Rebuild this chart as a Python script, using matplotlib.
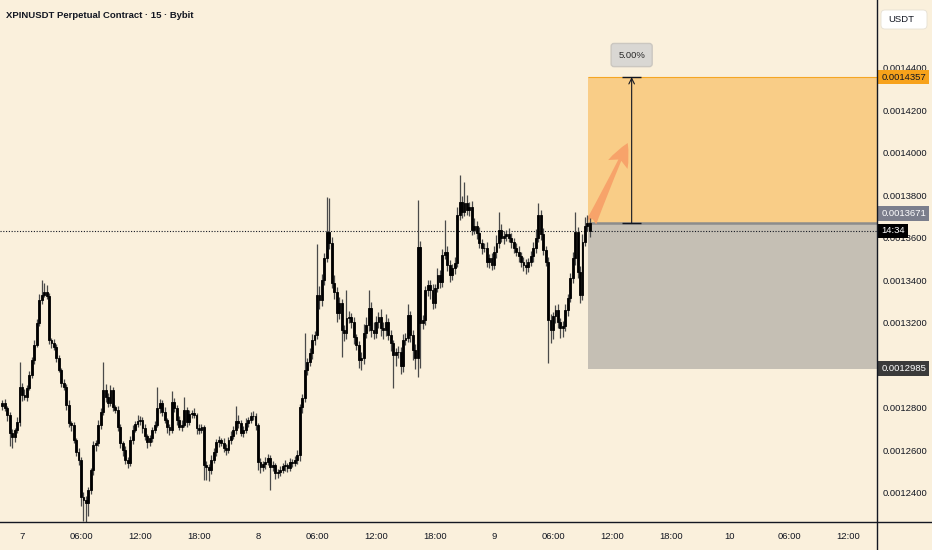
import matplotlib
matplotlib.use("Agg")
import matplotlib.pyplot as plt
from matplotlib import font_manager
from matplotlib.lines import Line2D
from matplotlib.patches import Rectangle, FancyBboxPatch
import numpy as np

# 15 minute bars, prices in units of 1e-7 USDT
close_e7 = [
    # 7th (from 22:00 on the 6th)
    12823, 12800, 12767, 12682, 12663, 12696, 12734, 12899, 12861, 12852,
    12894, 12955, 13026, 13097, 13200, 13308, 13332, 13346, 13327, 13120,
    13106, 13087, 13035, 12979, 12918, 12899, 12814, 12729, 12720, 12649,
    12593, 12555, 12381, 12367, 12353, 12414, 12508, 12626, 12635, 12720,
    12781, 12885, 12852, 12823, 12885, 12805, 12791, 12711, 12635, 12602,
    12555, 12541, 12649, 12696, 12725, 12739, 12743, 12706, 12668, 12640,
    12659,
    12696, 12720, 12800, 12823, 12781, 12743, 12711, 12696, 12828, 12800,
    12743, 12711, 12720, 12791, 12734, 12772, 12776, 12767, 12706, 12696,
    12711, 12532, 12522, 12508, 12555, 12593, 12640, 12649, 12635, 12612,
    12602, 12649, 12668, 12696, 12739, 12729, 12682, 12696, 12729, 12743,
    12762, 12762, 12720, 12546, 12522, 12536, 12546, 12565, 12522, 12532,
    12494, 12499, 12508, 12527, 12532, 12518, 12546, 12541, 12555, 12579,
    12805,
    # 8th, from 04:30
    12847, 12979, 13016, 13059, 13120, 13144, 13332, 13308, 13402, 13506,
    13628, 13576, 13388, 13346, 13247, 13294, 13167, 13153, 13224, 13228,
    13205, 13134, 13097, 13026, 13035, 13153, 13191, 13270, 13167, 13153,
    13205, 13228, 13176, 13167, 13205, 13144, 13106, 13049, 13064, 13064,
    12998, 13120, 13129, 13238, 13144, 13073, 13035, 13558, 13200, 13214,
    13355, 13379,
    13355, 13294, 13365, 13426, 13393, 13520, 13534, 13473, 13426, 13459,
    13482, 13708, 13769, 13722, 13765, 13732, 13746, 13638, 13656, 13623,
    13576, 13553, 13553, 13487, 13506, 13473, 13534, 13576, 13638, 13600,
    13609, 13619, 13600, 13581, 13553, 13534, 13515, 13487, 13473, 13464,
    13487, 13515, 13553, 13600, 13708, 13619, 13544, 13487, 13214, 13167,
    13233, 13261, 13205, 13176, 13186, 13261, 13318, 13412, 13506, 13628,
    13440, 13332, 13581, 13656, 13671, 13633,
]
wick_up_e7 = [
    15, 20, 10, 12, 18, 10, 25, 118, 20, 30,
    15, 20, 12, 25, 20, 30, 70, 40, 35, 15,
    10, 20, 12, 15, 10, 20, 15, 25, 10, 15,
    12, 20, 15, 25, 20, 15, 10, 20, 15, 25,
    20, 130, 30, 20, 25, 15, 10, 20, 15, 10,
    20, 15, 20, 25, 15, 30, 20, 15, 20, 10,
    15,
    15, 20, 100, 20, 15, 25, 10, 15, 50, 20,
    15, 20, 25, 60, 15, 20, 15, 25, 10, 20,
    15, 10, 20, 15, 25, 20, 15, 20, 10, 25,
    20, 15, 25, 20, 70, 30, 15, 20, 25, 15,
    20, 25, 15, 10, 20, 15, 25, 20, 15, 20,
    10, 15, 20, 15, 25, 10, 20, 15, 20, 25,
    15,
    20, 175, 20, 25, 30, 20, 240, 40, 30, 25,
    165, 160, 30, 40, 25, 30, 20, 25, 130, 30,
    20, 25, 15, 20, 30, 40, 35, 85, 30, 40,
    30, 25, 40, 30, 35, 20, 25, 15, 20, 30,
    25, 30, 25, 50, 20, 25, 30, 220, 30, 25,
    20, 25,
    25, 30, 20, 35, 25, 30, 150, 30, 25, 20,
    30, 40, 127, 30, 100, 35, 25, 30, 40, 25,
    30, 20, 25, 30, 20, 25, 30, 40, 85, 30,
    25, 20, 30, 25, 20, 25, 30, 20, 25, 30,
    20, 25, 30, 40, 57, 25, 30, 20, 25, 30,
    20, 25, 30, 20, 25, 30, 20, 25, 30, 94,
    25, 30, 40, 45, 35, 25,
]
wick_dn_e7 = [
    20, 15, 30, 60, 50, 25, 15, 20, 30, 15,
    20, 10, 15, 20, 10, 15, 20, 10, 15, 20,
    25, 15, 20, 10, 20, 15, 25, 20, 30, 15,
    20, 25, 40, 100, 110, 60, 20, 25, 30, 15,
    20, 15, 25, 20, 15, 20, 15, 20, 25, 30,
    20, 25, 15, 20, 10, 15, 20, 25, 20, 30,
    20,
    20, 15, 10, 25, 20, 15, 30, 25, 15, 20,
    25, 15, 20, 10, 25, 15, 20, 15, 30, 20,
    15, 70, 60, 50, 20, 15, 20, 25, 15, 20,
    25, 15, 20, 15, 20, 25, 15, 20, 15, 20,
    15, 20, 25, 40, 30, 20, 25, 15, 110, 20,
    30, 25, 20, 15, 25, 20, 15, 20, 15, 20,
    30,
    30, 20, 25, 20, 30, 25, 20, 40, 30, 25,
    20, 30, 25, 35, 40, 30, 127, 40, 30, 25,
    30, 35, 25, 40, 45, 30, 25, 30, 35, 30,
    25, 30, 35, 40, 30, 25, 40, 155, 50, 30,
    40, 30, 25, 20, 35, 45, 50, 90, 212, 30,
    25, 30,
    40, 30, 25, 20, 30, 25, 20, 30, 35, 25,
    30, 20, 25, 30, 20, 25, 30, 25, 20, 30,
    25, 30, 20, 25, 30, 25, 20, 30, 25, 20,
    30, 25, 20, 30, 25, 20, 30, 25, 30, 35,
    25, 20, 30, 25, 20, 30, 25, 20, 200, 60,
    40, 35, 30, 45, 40, 25, 30, 20, 25, 35,
    30, 40, 25, 20, 25, 30,
]
first_open_e7 = 12810
last_bar_hour = 57.75      # 9th 09:45, counted in hours from the 7th 00:00
bar_hours = 0.25

# long position tool
entry = 0.0013671
target = 0.0014357
stop = 0.0012985
gain_text = "5.00%"
countdown = "14:34"

# 0.0013000 sits under the stop tag, so it is left out like on the chart
ytick_vals = [0.00124, 0.00126, 0.00128, 0.00132, 0.00134,
              0.00136, 0.00138, 0.00140, 0.00142, 0.00144]
xtick_hours = [0, 6, 12, 18, 24, 30, 36, 42, 48, 54, 60, 66, 72, 78, 84]
xtick_labels = ["7", "06:00", "12:00", "18:00", "8", "06:00", "12:00", "18:00",
                "9", "06:00", "12:00", "18:00", "10", "06:00", "12:00"]
title = "XPINUSDT Perpetual Contract \u00b7 15 \u00b7 Bybit"

assert len(close_e7) == len(wick_up_e7) == len(wick_dn_e7)

names = {f.name for f in font_manager.fontManager.ttflist}
if "Liberation Sans Narrow" in names:
    font, fs, tfs = "Liberation Sans Narrow", 8, 7.8
else:
    font, fs, tfs = "Liberation Sans", 6.8, 6.8
plt.rcParams["font.family"] = [font, "DejaVu Sans"]

bg = "#FAF0DC"
ink = "#131722"

close = np.array(close_e7) * 1e-7
opn = np.r_[first_open_e7 * 1e-7, close[:-1]]
high = np.maximum(opn, close) + np.array(wick_up_e7) * 1e-7
low = np.minimum(opn, close) - np.array(wick_dn_e7) * 1e-7
n = len(close)
hours = last_bar_hour - bar_hours * np.arange(n - 1, -1, -1)

W, H = 932, 550
fig = plt.figure(figsize=(W / 100, H / 100), dpi=100, facecolor=bg)
ax = fig.add_axes([0, 1 - 522 / H, 877 / W, 522 / H])
ax.set_facecolor(bg)
x0, x1 = -2.237, 86.95
ax.set_xlim(x0, x1)
ax.set_ylim(0.00122635, 0.0014720)
for s in ax.spines.values():
    s.set_visible(False)

# position tool
tool_start = 57.6
ax.add_patch(Rectangle((tool_start, entry), x1 - tool_start, target - entry,
                       facecolor="#F9CD87", edgecolor="none", zorder=1))
ax.add_patch(Rectangle((tool_start, stop), x1 - tool_start, entry - stop,
                       facecolor="#C5BFB4", edgecolor="none", zorder=1))
ax.hlines(target, tool_start, x1, color="#F5A623", lw=0.8, zorder=2)
ax.hlines(entry, tool_start, x1, color="#8C8C8C", lw=1.8, zorder=2)

arrow_x = 62.0
ax.annotate("", xy=(arrow_x, target), xytext=(arrow_x, entry),
            arrowprops=dict(arrowstyle="->", lw=0.8, color=ink, shrinkA=0, shrinkB=0),
            zorder=3)
ax.hlines([entry, target], arrow_x - 1.0, arrow_x + 1.0, color=ink, lw=1.0, zorder=3)
ax.text(arrow_x, 0.0014461, gain_text, ha="center", va="center", fontsize=fs, color="#2a2a2a",
        bbox=dict(boxstyle="round,pad=0.75,rounding_size=0.3", fc="#D9D7D3", ec="#CBC7C0"),
        zorder=4)
ax.annotate("", xy=(61.6, 0.0014047), xytext=(57.9, 0.0013675),
            arrowprops=dict(arrowstyle="fancy,head_length=1.0,head_width=0.9,tail_width=0.45",
                            color="#F7A36A", lw=0, shrinkA=0, shrinkB=0, mutation_scale=17),
            zorder=3)

# candles
ax.vlines(hours, low, high, color="#4a4a4a", lw=0.9, zorder=5)
ax.bar(hours, np.abs(close - opn), bottom=np.minimum(opn, close), width=0.19,
       color="black", edgecolor="black", linewidth=0.6, zorder=6)

# last price line
ax.axhline(close[-1], color=ink, lw=0.8, ls=(0, (1, 1.5)), zorder=4)

# axes
ax.yaxis.tick_right()
ax.set_yticks(ytick_vals, [f"{v:.7f}" for v in ytick_vals])
ax.tick_params(axis="y", length=0, pad=4, labelsize=fs, colors=ink)
ax.set_xticks(xtick_hours, xtick_labels)
ax.tick_params(axis="x", length=0, pad=7, labelsize=fs, colors=ink)

ytr = ax.get_yaxis_transform()


def price_tag(y, text, fc, tc, dy=0):
    ax.annotate(text, xy=(1.0, y), xycoords=ytr, xytext=(3.0, dy), textcoords="offset points",
                ha="left", va="center", fontsize=fs, color=tc, annotation_clip=False,
                bbox=dict(boxstyle="square,pad=0.3", fc=fc, ec="none"), zorder=10)


price_tag(target, f"{target:.7f}", "#F7A21B", ink)
price_tag(entry, f"{entry:.7f}", "#7B7E8C", "white", dy=7)
price_tag(stop, f"{stop:.7f}", "#3A3A3A", "white")
price_tag(close[-1], countdown, "black", "white")

fig.add_artist(Line2D([0, 1], [1 - 522 / H] * 2, transform=fig.transFigure, color=ink, lw=1))
fig.add_artist(Line2D([877 / W] * 2, [0, 1], transform=fig.transFigure, color=ink, lw=1))

fig.add_artist(FancyBboxPatch((8.81, 5.21), 0.46, 0.19, boxstyle="round,pad=0,rounding_size=0.04",
                              transform=fig.dpi_scale_trans, fc="white", ec="#E6E0D4", lw=0.6))
fig.text(8.88, 5.305, "USDT", transform=fig.dpi_scale_trans, ha="left", va="center",
         fontsize=fs, color=ink)
fig.text(6 / W, 1 - 16 / H, title, ha="left", va="center", fontsize=tfs,
         fontweight="bold", color=ink)

fig.savefig("out.png", dpi=100, facecolor=bg)
